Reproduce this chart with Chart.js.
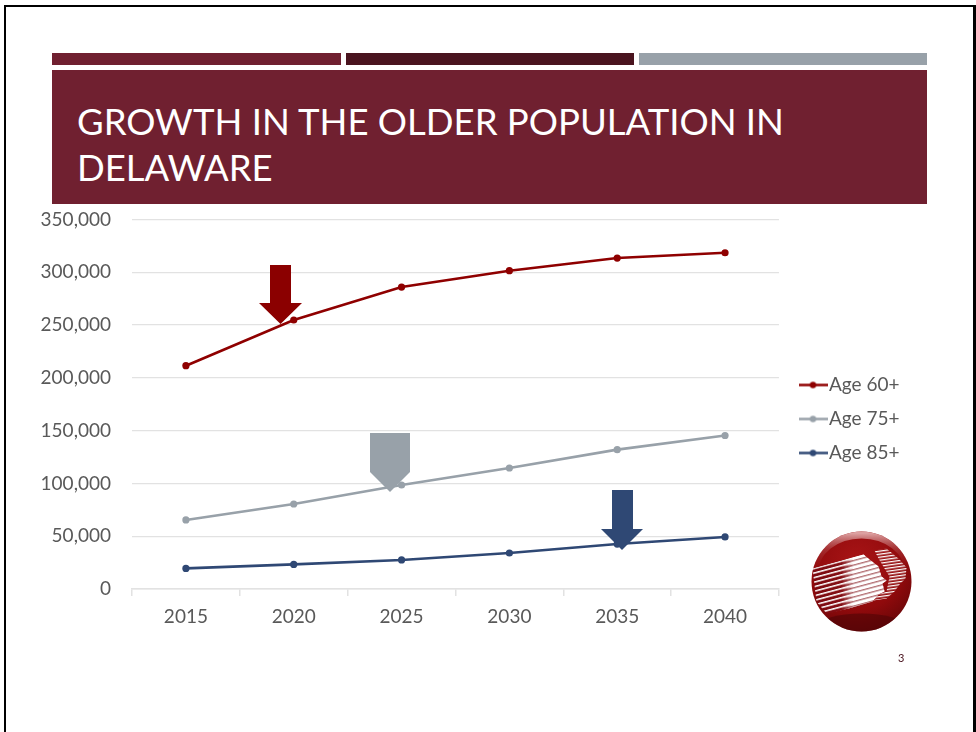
<!DOCTYPE html>
<html>
<head>
<meta charset="utf-8">
<title>Growth in the older population in Delaware</title>
<script src="https://cdn.jsdelivr.net/npm/chart.js@4"></script>
<style>
  html, body { margin: 0; padding: 0; background: #fff; }
  #slide { position: relative; width: 976px; height: 732px; overflow: hidden; font-family: Lato, sans-serif; }
  #frame { position: absolute; left: 4px; top: 5px; width: 967px; height: 740px; border: 2px solid #000; border-right-width: 3px; }
  .strip { position: absolute; top: 53px; height: 12px; }
  #banner { position: absolute; left: 52px; top: 70px; width: 875px; height: 134px; background: #702030; }
  #banner h1 { position: absolute; left: 25px; top: 28px; margin: 0; color: #fff; font-weight: 400; font-size: 36.5px; line-height: 46px; white-space: nowrap; }
  #chart { position: absolute; left: 0; top: 0; }
  #marks { position: absolute; left: 0; top: 0; pointer-events: none; }
  #pageno { position: absolute; left: 898px; top: 651px; font-size: 11px; color: #4a141f; }
</style>
</head>
<body>
<div id="slide">
  <div id="frame"></div>
  <div class="strip" style="left:52px;width:289px;background:#702030"></div>
  <div class="strip" style="left:346px;width:288px;background:#4a141f"></div>
  <div class="strip" style="left:639px;width:288px;background:#98a1a9"></div>
  <div id="banner"><h1>GROWTH IN THE OLDER POPULATION IN<br>DELAWARE</h1></div>
  <canvas id="chart" width="976" height="732"></canvas>
  <svg id="marks" width="976" height="732" viewBox="0 0 976 732">
    <defs>
      <radialGradient id="disc" cx="0.45" cy="0.3" r="0.8">
        <stop offset="0" stop-color="#a81416"/>
        <stop offset="0.6" stop-color="#900a0c"/>
        <stop offset="1" stop-color="#5e0507"/>
      </radialGradient>
      <linearGradient id="rim" x1="0" y1="0" x2="0" y2="1">
        <stop offset="0" stop-color="#dca0a0"/>
        <stop offset="0.22" stop-color="#b04a4c" stop-opacity="0.5"/>
        <stop offset="0.45" stop-color="#a32a2c" stop-opacity="0"/>
      </linearGradient>
      <linearGradient id="fade" gradientUnits="userSpaceOnUse" x1="818" y1="0" x2="852" y2="0">
        <stop offset="0" stop-color="#7d0a10"/>
        <stop offset="0.65" stop-color="#8a1318"/>
        <stop offset="1" stop-color="#ffffff"/>
      </linearGradient>
      <pattern id="stripes" patternUnits="userSpaceOnUse" width="20" height="4.4" patternTransform="rotate(-15 860 580)">
        <rect width="20" height="1.5" fill="#fff"/>
        <rect y="3" width="20" height="0.8" fill="#7d0a10"/>
      </pattern>
      <pattern id="thinStripes" patternUnits="userSpaceOnUse" width="20" height="3" patternTransform="rotate(-8 880 570)">
        <rect width="20" height="1.3" fill="#fff"/>
      </pattern>
      <clipPath id="discClip"><circle cx="860" cy="580" r="50"/></clipPath>
    </defs>

    <!-- callout arrows -->
    <polygon fill="#8b0000" points="270,265 291,265 291,303 302,303 280.5,324 259,303 270,303"/>
    <polygon fill="#98a1a9" points="370,433 410,433 410,472 390,492 370,472"/>
    <polygon fill="#2f4874" points="612,490 633,490 633,529 643,529 622,550 601,529 612,529"/>

    <!-- agency badge -->
    <g transform="translate(1.5 1.5)">
      <circle cx="860" cy="580" r="50" fill="url(#disc)"/>
      <g clip-path="url(#discClip)">
        <ellipse cx="860" cy="624" rx="42" ry="12" fill="#4a0305" opacity="0.55"/>
        <ellipse cx="860" cy="570" rx="48" ry="38" fill="none" stroke="url(#rim)" stroke-width="10"/>
        <path fill="url(#thinStripes)" d="M873,549 L885,547 L898,558 L905,566 L904,577 L898,583 L893,590 L885,597 L872,599 L877,593 L885,590 L887,580 L888,575 L883,567 L877,557 Z"/>
        <path fill="url(#fade)" d="M811,567 L862,553 L868,558 L877,565 L880,575 L885,579 L881,582 L883,590 L877,593 L871,600 L847,607 L825,612 L815,600 Z"/>
      </g>
      <path fill="url(#stripes)" d="M811,567 L862,553 L868,558 L877,565 L880,575 L885,579 L881,582 L883,590 L877,593 L871,600 L847,607 L825,612 L815,600 Z"/>
    </g>
  </svg>
  <div id="pageno">3</div>
</div>
<script>
const years = ['2015', '2020', '2025', '2030', '2035', '2040'];
const age60 = [211500, 254800, 286000, 301500, 313500, 318500];
const age75 = [65400, 80500, 98500, 114600, 132000, 145400];
const age85 = [19500, 23300, 27500, 34100, 42600, 49300];
const yTicks = [0, 50000, 100000, 150000, 200000, 250000, 300000, 350000];

const RED = '#8f0000';
const GRAY = '#98a1a9';
const BLUE = '#2f4874';
const GRID = '#e2e2e2';
const TEXT = '#595959';

// little line-and-dot sample used as the legend symbol
function legendSymbol(color) {
  const c = document.createElement('canvas');
  c.width = 29;
  c.height = 9;
  const g = c.getContext('2d');
  g.strokeStyle = color;
  g.fillStyle = color;
  g.lineWidth = 2.5;
  g.beginPath();
  g.moveTo(0, 4.5);
  g.lineTo(29, 4.5);
  g.stroke();
  g.beginPath();
  g.arc(14.5, 4.5, 3.2, 0, Math.PI * 2);
  g.fill();
  return c;
}

function series(label, data, color) {
  return {
    label,
    data,
    borderColor: color,
    backgroundColor: color,
    borderWidth: 2.6,
    pointRadius: 3.6,
    pointHoverRadius: 3.6,
    pointBorderWidth: 0,
    pointStyle: 'circle',
    tension: 0,
    legendSymbol: legendSymbol(color),
  };
}

// legend sits a little right of the plot, centred on its own line
const legendShift = {
  id: 'legendShift',
  afterLayout(chart) {
    const l = chart.legend;
    const dx = 791.5 - l.left;
    const dy = 419 - (l.top + l.bottom) / 2;
    l.left += dx;
    l.right += dx;
    l.top += dy;
    l.bottom += dy;
  },
};

new Chart(document.getElementById('chart'), {
  type: 'line',
  plugins: [legendShift],
  data: {
    labels: years,
    datasets: [
      series('Age 60+', age60, RED),
      series('Age 75+', age75, GRAY),
      series('Age 85+', age85, BLUE),
    ],
  },
  options: {
    responsive: false,
    animation: false,
    layout: { padding: { top: 219.5, bottom: 100, left: 30, right: 79 } },
    plugins: {
      tooltip: { enabled: false },
      legend: {
        position: 'right',
        labels: {
          color: TEXT,
          font: { family: 'Lato', size: 19 },
          usePointStyle: true,
          pointStyleWidth: 13,
          padding: 15,
          generateLabels(chart) {
            return chart.data.datasets.map((d, i) => ({
              text: d.label,
              fontColor: TEXT,
              pointStyle: d.legendSymbol,
              datasetIndex: i,
              lineWidth: 0,
            }));
          },
        },
      },
    },
    scales: {
      x: {
        offset: true,
        afterFit(s) { s.height = 43; },
        border: { color: GRID, width: 1.5 },
        grid: { offset: true, drawOnChartArea: false, color: GRID, tickLength: 7, lineWidth: 1.5 },
        ticks: { color: TEXT, font: { family: 'Lato', size: 19 }, padding: 9, maxRotation: 0 },
      },
      y: {
        min: 0,
        max: 350000,
        afterFit(s) { s.width = 102; },
        afterBuildTicks(s) { s.ticks = yTicks.map((value) => ({ value })); },
        border: { display: false },
        grid: { color: GRID, lineWidth: 1.2, drawTicks: false },
        ticks: {
          color: TEXT,
          font: { family: 'Lato', size: 19 },
          padding: 21,
          callback: (v) => v.toLocaleString('en-US'),
        },
      },
    },
  },
});
</script>
</body>
</html>
